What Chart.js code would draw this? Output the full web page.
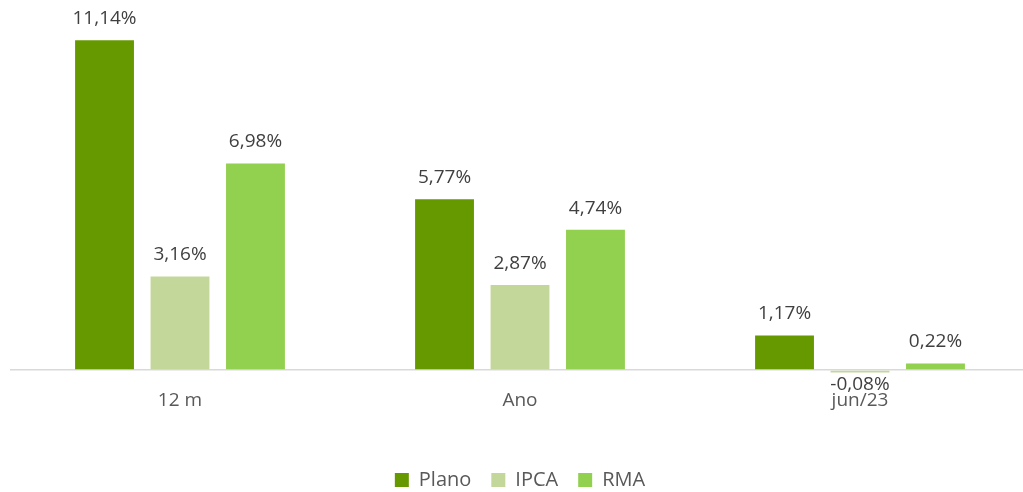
<!DOCTYPE html>
<html>
<head>
<meta charset="utf-8">
<script src="https://cdn.jsdelivr.net/npm/chart.js@4"></script>
<style>
  html, body { margin: 0; padding: 0; background: #ffffff; overflow: hidden; }
  #wrap { width: 1030px; height: 492px; }
</style>
</head>
<body>
<div id="wrap"><canvas id="chart"></canvas></div>
<script>
// categories and series
const categories = ["12 m", "Ano", "jun/23"];
const plano = [11.14, 5.77, 1.17];
const ipca = [3.16, 2.87, -0.08];
const rma = [6.98, 4.74, 0.22];

const FONT = "'Open Sans', 'Noto Sans', sans-serif";

// format like "11,14%"
const fmt = v => v.toFixed(2).replace(".", ",") + "%";

// draws value labels above (or below, if negative) each bar
const valueLabels = {
  id: "valueLabels",
  afterDatasetsDraw(chart) {
    const ctx = chart.ctx;
    ctx.save();
    ctx.font = "19px " + FONT;
    ctx.fillStyle = "#404040";
    ctx.textAlign = "center";
    chart.data.datasets.forEach((ds, i) => {
      const meta = chart.getDatasetMeta(i);
      meta.data.forEach((bar, j) => {
        const v = ds.data[j];
        if (v >= 0) {
          ctx.textBaseline = "bottom";
          ctx.fillText(fmt(v), bar.x, bar.y - 12);
        } else {
          ctx.textBaseline = "top";
          ctx.fillText(fmt(v), bar.x, bar.y + 3);
        }
      });
    });
    ctx.restore();
  }
};

new Chart(document.getElementById("chart"), {
  type: "bar",
  data: {
    labels: categories,
    datasets: [
      { label: "Plano", data: plano, backgroundColor: "#669900" },
      { label: "IPCA", data: ipca, backgroundColor: "#C4D79B" },
      { label: "RMA", data: rma, backgroundColor: "#92D050" }
    ]
  },
  options: {
    responsive: true,
    maintainAspectRatio: false,
    animation: false,
    layout: { padding: { left: 10, right: 0, top: 0, bottom: -8 } },
    datasets: {
      bar: { categoryPercentage: 0.666, barPercentage: 0.78 }
    },
    plugins: {
      legend: {
        position: "bottom",
        labels: {
          boxWidth: 14,
          boxHeight: 14,
          padding: 20,
          color: "#595959",
          font: { family: FONT, size: 20 }
        }
      },
      tooltip: { enabled: false }
    },
    scales: {
      x: {
        grid: { display: false, drawTicks: false },
        border: { display: false },
        ticks: {
          color: "#595959",
          padding: 11,
          font: { family: FONT, size: 19 }
        },
        afterFit(scale) { scale.height = 72; }
      },
      y: {
        min: -0.27,
        max: 12.5,
        ticks: { display: false },
        afterBuildTicks(scale) {
          scale.ticks = [{ value: scale.min }, { value: 0 }, { value: scale.max }];
        },
        border: { display: false },
        grid: {
          drawTicks: false,
          lineWidth: 1.5,
          color: c => (c.tick && c.tick.value === 0 ? "#d9d9d9" : "rgba(0,0,0,0)")
        }
      }
    }
  },
  plugins: [valueLabels]
});
</script>
</body>
</html>
